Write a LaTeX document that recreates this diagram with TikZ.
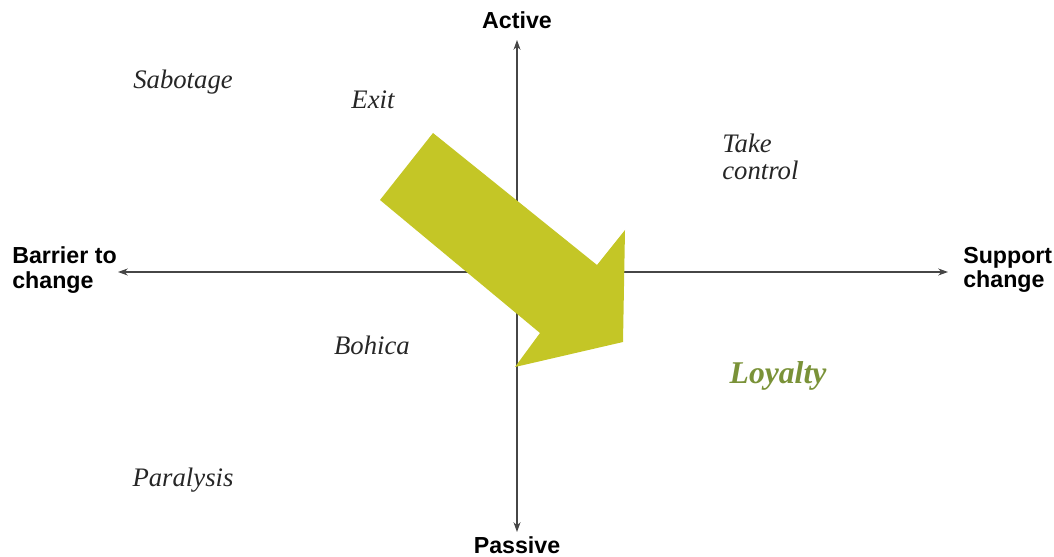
\documentclass[tikz,border=0pt]{standalone}
\usepackage{fontspec}
\setmainfont{Liberation Serif}
\setsansfont{Liberation Sans}
\usetikzlibrary{arrows.meta}

\definecolor{shiftgreen}{RGB}{196,198,38}
\definecolor{loyalgreen}{RGB}{122,146,56}
\definecolor{axisgray}{RGB}{70,70,70}

\begin{document}
\begin{tikzpicture}[x=0.025cm,y=-0.025cm,
  axis/.style={draw=axisgray,line width=0.8pt,{Stealth[length=7pt,width=5pt]}-{Stealth[length=7pt,width=5pt]}},
  pole/.style={font=\sffamily\bfseries\fontsize{16.5}{17.5}\selectfont,text=black,align=left,inner sep=0pt},
  stance/.style={font=\itshape\fontsize{19}{19.5}\selectfont,text=black!85,align=left,inner sep=0pt}]
\useasboundingbox (0,0) rectangle (1054,557);

% the two axes
\coordinate (top) at (517,40);
\coordinate (bottom) at (517,532);
\coordinate (left) at (118,272);
\coordinate (right) at (948,272);
\draw[axis] (bottom) -- (top);
\draw[axis] (left) -- (right);

% poles of the axes
\node[pole] (active) at (517,20) {Active};
\node[pole] (passive) at (517,545) {Passive};
\node[pole,anchor=west] (barrier) at (12,270) {Barrier to\\change};
\node[pole,anchor=west] (support) at (963,270) {Support\\change};

% reactions to change
\node[stance] (sabotage) at (183,82) {Sabotage};
\node[stance] (exit) at (373,100) {Exit};
\node[stance,anchor=west] (takecontrol) at (722,157) {Take\\control};
\node[stance] (bohica) at (372,345) {Bohica};
\node[stance] (paralysis) at (183,480) {Paralysis};
\node[stance,font=\bfseries\itshape\fontsize{22.5}{24}\selectfont,text=loyalgreen] (loyalty) at (778,376) {Loyalty};

% the big shift arrow
\fill[shiftgreen] (433,133) -- (597,265) -- (625,230) -- (623,342)
  -- (515,367) -- (540,333) -- (380,200) -- cycle;

\end{tikzpicture}
\end{document}
